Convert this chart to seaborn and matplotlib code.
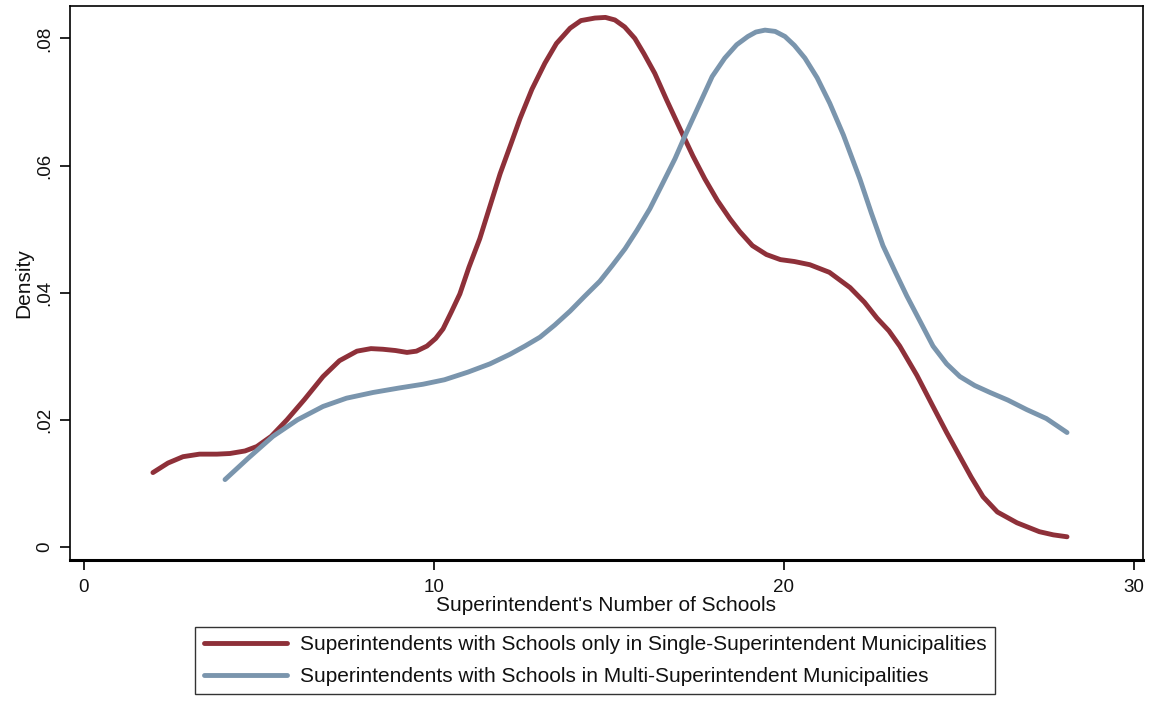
import numpy as np
import pandas as pd
import matplotlib
matplotlib.use("Agg")
import matplotlib.pyplot as plt
import seaborn as sns

# Kernel density estimates of the number of schools per superintendent
single_x = [1.97, 2.4, 2.83, 3.3, 3.8, 4.17, 4.6, 4.94, 5.35, 5.8, 6.3, 6.83, 7.3,
            7.8, 8.2, 8.54, 8.9, 9.23, 9.5, 9.8, 10.05, 10.26, 10.5, 10.74, 11.0,
            11.31, 11.6, 11.89, 12.2, 12.46, 12.8, 13.17, 13.5, 13.89, 14.2, 14.6,
            14.9, 15.17, 15.45, 15.74, 16.0, 16.31, 16.65, 17.03, 17.4, 17.74,
            18.1, 18.46, 18.74, 19.1, 19.5, 19.9, 20.3, 20.74, 21.3, 21.89, 22.3,
            22.66, 23.0, 23.31, 23.8, 24.26, 24.65, 25.03, 25.35, 25.69, 26.1,
            26.66, 27.3, 27.7, 28.09]
single_y = [0.0117, 0.0132, 0.0142, 0.0146, 0.0146, 0.0147, 0.0151, 0.0158, 0.0174,
            0.0200, 0.0232, 0.0268, 0.0293, 0.0308, 0.0312, 0.0311, 0.0309, 0.0306,
            0.0308, 0.0316, 0.0328, 0.0343, 0.0370, 0.0398, 0.0440, 0.0485, 0.0536,
            0.0587, 0.0634, 0.0674, 0.0720, 0.0761, 0.0792, 0.0816, 0.0828, 0.0832,
            0.0833, 0.0829, 0.0818, 0.0800, 0.0776, 0.0745, 0.0703, 0.0658, 0.0615,
            0.0579, 0.0545, 0.0516, 0.0496, 0.0474, 0.0460, 0.0452, 0.0449, 0.0444,
            0.0432, 0.0408, 0.0385, 0.0360, 0.0340, 0.0316, 0.0270, 0.0221, 0.0180,
            0.0142, 0.0110, 0.0079, 0.0055, 0.0038, 0.0024, 0.0019, 0.0016]

multi_x = [4.03, 4.7, 5.4, 6.1, 6.83, 7.5, 8.26, 9.0, 9.69, 10.3, 10.97, 11.6,
           12.17, 12.6, 13.03, 13.45, 13.89, 14.3, 14.74, 15.1, 15.46, 15.8,
           16.17, 16.5, 16.89, 17.2, 17.6, 17.95, 18.31, 18.65, 18.97, 19.2,
           19.46, 19.75, 20.03, 20.3, 20.6, 20.95, 21.31, 21.7, 22.17, 22.5,
           22.83, 23.17, 23.51, 23.9, 24.26, 24.65, 25.03, 25.45, 25.89, 26.4,
           26.94, 27.5, 28.09]
multi_y = [0.0106, 0.0140, 0.0174, 0.0200, 0.0221, 0.0234, 0.0243, 0.0250, 0.0256,
           0.0263, 0.0275, 0.0288, 0.0303, 0.0316, 0.0330, 0.0349, 0.0371, 0.0394,
           0.0418, 0.0443, 0.0469, 0.0498, 0.0532, 0.0568, 0.0611, 0.0650, 0.0698,
           0.0740, 0.0769, 0.0790, 0.0803, 0.0810, 0.0813, 0.0811, 0.0803, 0.0789,
           0.0769, 0.0738, 0.0698, 0.0648, 0.0579, 0.0525, 0.0474, 0.0434, 0.0395,
           0.0354, 0.0316, 0.0288, 0.0268, 0.0254, 0.0243, 0.0231, 0.0216, 0.0202,
           0.0180]

series_names = ["Superintendents with Schools only in Single-Superintendent Municipalities",
                "Superintendents with Schools in Multi-Superintendent Municipalities"]
x_ticks = [0, 10, 20, 30]
x_tick_labels = ["0", "10", "20", "30"]
y_ticks = [0, 0.02, 0.04, 0.06, 0.08]
y_tick_labels = ["0", ".02", ".04", ".06", ".08"]

df = pd.concat([
    pd.DataFrame({"schools": single_x, "density": single_y, "group": series_names[0]}),
    pd.DataFrame({"schools": multi_x, "density": multi_y, "group": series_names[1]}),
], ignore_index=True)

sns.set_theme(style="white")
plt.rcParams["font.family"] = ["Liberation Sans", "DejaVu Sans"]

palette = {series_names[0]: "#8E3039", series_names[1]: "#7A95AD"}
text_color = "#111111"

fig = plt.figure(figsize=(11.53, 7.02), dpi=100)
ax = fig.add_axes([0.0607, 0.2023, 0.9306, 0.7892])

sns.lineplot(data=df, x="schools", y="density", hue="group", palette=palette,
             hue_order=series_names, sort=False, linewidth=3.5, ax=ax,
             legend=False, estimator=None)

ax.set_xlim(-0.4, 30.26)
ax.set_ylim(-0.00205, 0.0851)
ax.set_xticks(x_ticks)
ax.set_xticklabels(x_tick_labels, fontsize=13.5, color=text_color)
ax.set_yticks(y_ticks)
ax.set_yticklabels(y_tick_labels, fontsize=13.5, color=text_color, rotation=90,
                   va="center")
ax.tick_params(axis="x", direction="out", length=7, width=1.2, color="black",
               bottom=True, pad=7)
ax.tick_params(axis="y", direction="out", length=7, width=1.2, color="black",
               left=True, pad=5)

for side in ["top", "right", "left"]:
    ax.spines[side].set_color("black")
    ax.spines[side].set_linewidth(1.2)
ax.spines["bottom"].set_color("black")
ax.spines["bottom"].set_linewidth(2.2)

ax.set_xlabel("Superintendent's Number of Schools", fontsize=15, labelpad=0,
              color=text_color)
ax.set_ylabel("Density", fontsize=15, labelpad=2, color=text_color)

handles = [plt.Line2D([], [], color=palette[n], linewidth=3.5) for n in series_names]
leg = fig.legend(handles, series_names, loc="upper center",
                 bbox_to_anchor=(0.516, 0.1068), borderaxespad=0, ncol=1,
                 fontsize=15, frameon=True, fancybox=False, edgecolor="black",
                 handlelength=4.0, handletextpad=0.6, borderpad=0.4,
                 labelspacing=0.6)
leg.get_frame().set_linewidth(1.0)
for t in leg.get_texts():
    t.set_color(text_color)

fig.savefig("out.png", dpi=100, facecolor="white")
